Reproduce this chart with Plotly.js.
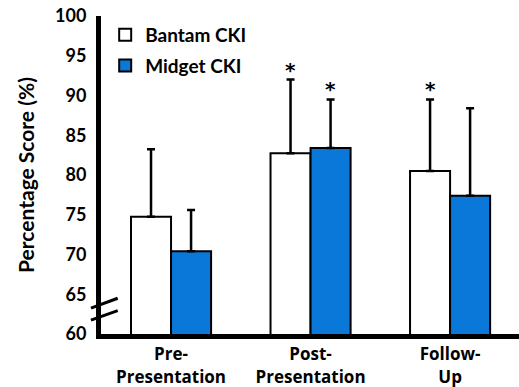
<!DOCTYPE html>
<html>
<head>
<meta charset="utf-8">
<script src="https://cdn.plot.ly/plotly-3.0.1.min.js"></script>
<style>html,body{margin:0;padding:0;background:#fff;}#chart{width:519px;height:387px;}</style>
</head>
<body>
<div id="chart"></div>
<script>
const categories = ["Pre-<br>Presentation", "Post-<br>Presentation", "Follow-<br>Up"];
const bantamValues = [74.75, 82.75, 80.5];
const bantamErrors = [8.5, 9.25, 9.0];
const midgetValues = [70.4, 83.4, 77.4];
const midgetErrors = [5.2, 6.1, 11.0];
const bantamSignificant = [false, true, true];
const midgetSignificant = [false, true, false];
const yTickValues = [60, 65, 70, 75, 80, 85, 90, 95, 100];

const FONT = "Lato, 'Open Sans', sans-serif";
const XFONT = "'Open Sans', Lato, sans-serif";
const idx = categories.map((c, i) => i);
const xRange = [-0.502, 2.494];

const traceB = {
  type: "bar", name: "<b>Bantam CKI</b>", x: idx, y: bantamValues,
  marker: {color: "#ffffff", line: {color: "#000000", width: 2}},
  error_y: {type: "data", symmetric: false, array: bantamErrors, arrayminus: bantamErrors.map(() => 0),
            color: "#000000", thickness: 2.5, width: 4},
  legendgroup: "b", hoverinfo: "none"
};
const traceM = {
  type: "bar", name: "<b>Midget CKI</b>", x: idx, y: midgetValues,
  marker: {color: "#0a78d8", line: {color: "#000000", width: 2}},
  error_y: {type: "data", symmetric: false, array: midgetErrors, arrayminus: midgetErrors.map(() => 0),
            color: "#000000", thickness: 2.5, width: 4},
  legendgroup: "m", hoverinfo: "none"
};

const barOffset = 0.143;
const starFont = {family: "'DejaVu Sans', sans-serif", size: 20, color: "#000"};
const annotations = [];
bantamSignificant.forEach((s, i) => {
  if (s) annotations.push({x: i - barOffset, y: bantamValues[i] + bantamErrors[i], xref: "x", yref: "y",
    text: "<b>*</b>", showarrow: false, yanchor: "bottom", yshift: -4, font: starFont});
});
midgetSignificant.forEach((s, i) => {
  if (s) annotations.push({x: i + barOffset, y: midgetValues[i] + midgetErrors[i], xref: "x", yref: "y",
    text: "<b>*</b>", showarrow: false, yanchor: "bottom", yshift: -4, font: starFont});
});

const shapes = [
  {type: "line", xref: "paper", yref: "y", x0: -0.024, y0: 63.25, x1: 0.04, y1: 64.5, line: {color: "#000", width: 3}},
  {type: "line", xref: "paper", yref: "y", x0: -0.024, y0: 61.75, x1: 0.04, y1: 62.95, line: {color: "#000", width: 3}}
];

const layout = {
  width: 519, height: 387,
  margin: {l: 101, r: 0, t: 16, b: 53},
  paper_bgcolor: "#ffffff", plot_bgcolor: "#ffffff",
  font: {family: FONT, color: "#000000"},
  barmode: "group", bargap: 0.426, bargroupgap: 0,
  showlegend: true,
  legend: {x: 0.01, y: 1.0, xanchor: "left", yanchor: "top", bgcolor: "rgba(0,0,0,0)",
           font: {family: FONT, size: 19, color: "#000"}, traceorder: "grouped", tracegroupgap: 3},
  xaxis: {
    range: xRange, tickmode: "array", tickvals: idx, ticktext: categories.map(c => "<b>" + c + "</b>"),
    showline: true, linecolor: "#000", linewidth: 5, showgrid: false, zeroline: false, ticks: "",
    tickfont: {family: XFONT, size: 17, color: "#000"}, ticklabelstandoff: 1, fixedrange: true
  },
  yaxis: {
    range: [60, 100], tickmode: "array", tickvals: yTickValues, ticktext: yTickValues.map(v => "<b>" + v + "</b>"),
    showline: true, linecolor: "#000", linewidth: 5, showgrid: false, zeroline: false, ticks: "",
    tickfont: {family: FONT, size: 18, color: "#000"}, ticklabelstandoff: 6,
    title: {text: "<b>Percentage Score (%)</b>", font: {family: FONT, size: 21, color: "#000"}, standoff: 16},
    fixedrange: true
  },
  annotations: annotations,
  shapes: shapes
};

Plotly.newPlot("chart", [traceB, traceM], layout, {displayModeBar: false, staticPlot: true});
</script>
</body>
</html>
